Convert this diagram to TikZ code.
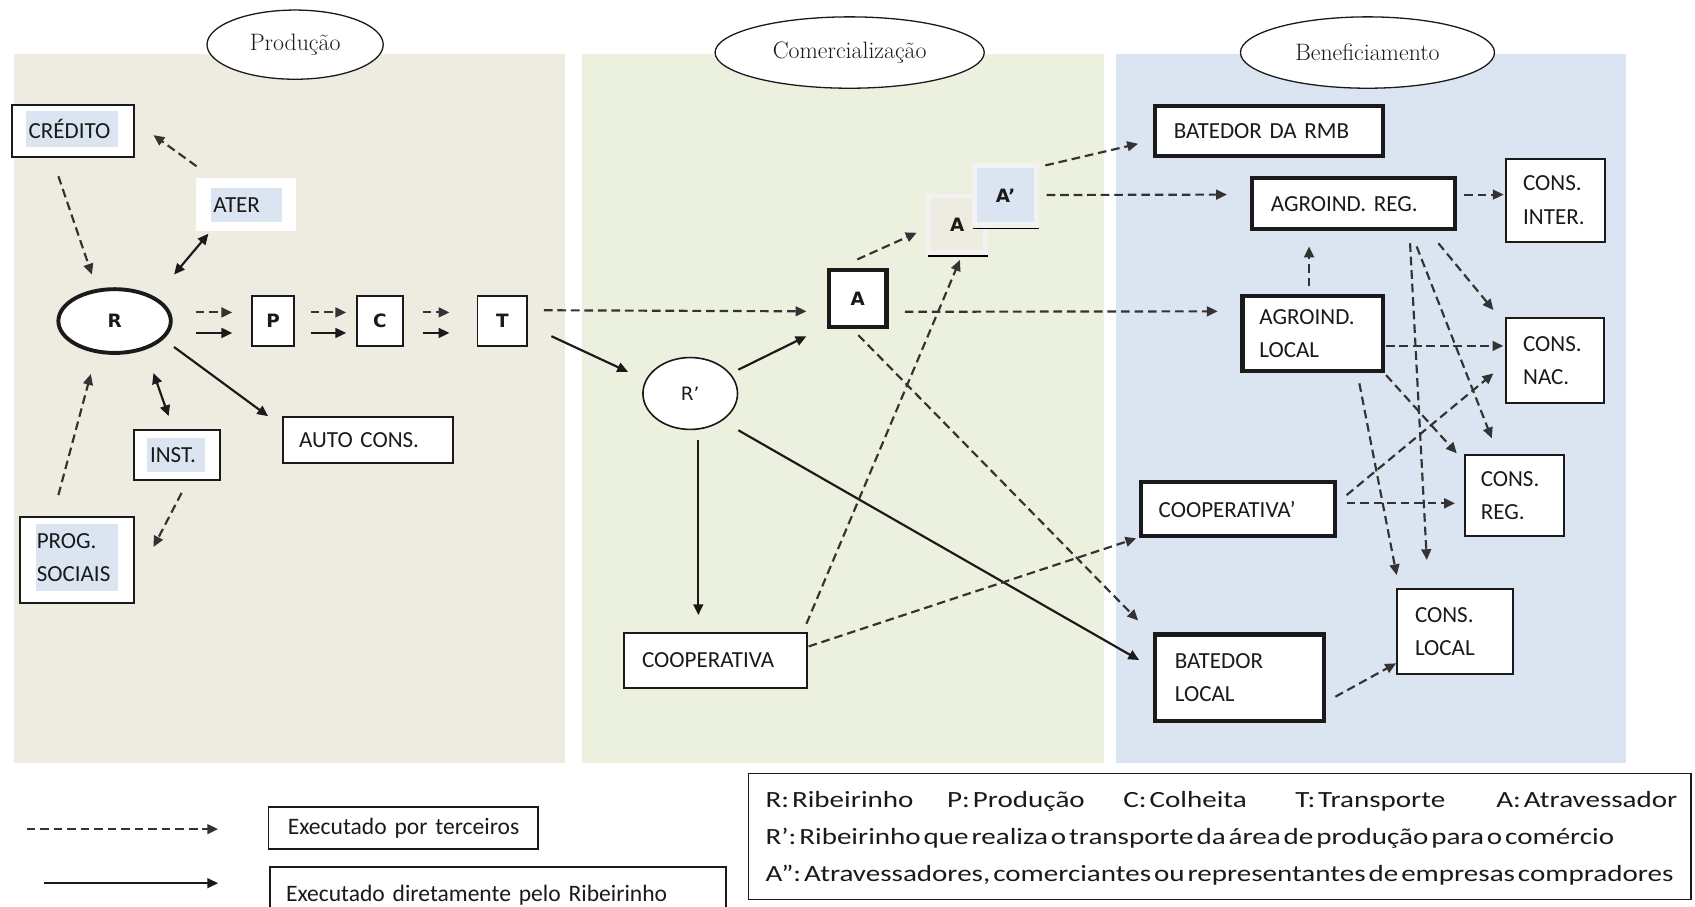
\documentclass[tikz,border=0pt]{standalone}
\usepackage{fontspec}
\newfontfamily\boxfont{Carlito}
\newfontfamily\letterfont{DejaVu Sans}
\newfontfamily\legfont{Carlito}[FakeStretch=1.25,WordSpace=0.45]
\usetikzlibrary{arrows.meta,calc,shapes.geometric}

\definecolor{tanbg}{HTML}{EEECE1}
\definecolor{greenbg}{HTML}{EBF1DE}
\definecolor{bluebg}{HTML}{DBE5F1}
\definecolor{hl}{HTML}{DBE5F1}
\definecolor{ink}{HTML}{1A1A1A}
\definecolor{dashink}{HTML}{333333}
\definecolor{frame}{HTML}{F2F2F2}
\definecolor{shade}{HTML}{8EA4BE}

\tikzset{
  title/.style={ellipse, draw=ink, line width=1.2pt, fill=white, inner sep=0pt,
    text=ink, font=\fontsize{22}{26}\selectfont},
  box/.style={rectangle, draw=ink, line width=1.8pt, fill=white, inner ysep=0pt,
    align=left, text=ink, font=\boxfont\fontsize{21.3}{31}\selectfont},
  thickbox/.style={box, line width=3.8pt},
  letter/.style={text=ink, font=\letterfont\bfseries\fontsize{17}{20}\selectfont},
  hlbox/.style={fill=hl, inner ysep=0pt, align=left, text=ink,
    font=\boxfont\fontsize{21.3}{31}\selectfont},
  stackbox/.style={draw=frame, line width=4.6pt, inner sep=0pt, letter},
  legtext/.style={anchor=base west, inner sep=0pt, text=ink,
    font=\legfont\fontsize{21.5}{34}\selectfont},
  keybox/.style={box, line width=1.5pt, font=\boxfont\fontsize{21.8}{26}\selectfont},
  tip/.style={-{Triangle[length=10pt,width=9pt]}},
  dsh/.style={draw=dashink, line width=2pt, dash pattern=on 8pt off 4.5pt, tip},
  sol/.style={draw=ink, line width=2pt, tip},
  sol2/.style={draw=ink, line width=2pt,
    {Triangle[length=10pt,width=9pt]}-{Triangle[length=10pt,width=9pt]}},
}

\begin{document}
\begin{tikzpicture}[x=1pt,y=-1pt]
\useasboundingbox (0,0) rectangle (1568,839);
\clip (0,0) rectangle (1568,839);
\fill[white] (0,0) rectangle (1568,839);

% the three stage panels
\fill[tanbg] (12.5,50) rectangle (523,706);
\fill[greenbg] (538.5,50) rectangle (1021,706);
\fill[bluebg] (1032.5,50) rectangle (1504,706);

% stage titles
\node[title, minimum width=163, minimum height=64] (tprod) at (273,41.3) {Produção};
\node[title, minimum width=249, minimum height=66] (tcom) at (786,48.6) {Comercialização};
\node[title, minimum width=235, minimum height=66] (tben) at (1265,48.6) {Beneficiamento};

% ---------- Produção ----------
\node[box, minimum width=113.2, minimum height=48.2] (cred) at (67.5,121) {};
\node[hlbox, minimum width=85, minimum height=33, inner xsep=2.5pt, text width=80pt] (credt) at (66.5,119.5) {CRÉDITO};

\node[fill=white, minimum width=93, minimum height=49, inner sep=0pt] (ater) at (227.5,189.5) {};
\node[hlbox, minimum width=66, minimum height=31, inner xsep=2.5pt, text width=61pt] (atert) at (228,189.5) {ATER};

\node[ellipse, draw=ink, line width=3.6pt, fill=white, minimum width=104, minimum height=59, inner sep=0pt, letter] (R) at (106,297) {R};

\node[box, minimum width=39.6, minimum height=46.2, inner xsep=0pt, letter] (P) at (252.6,297) {P};
\node[box, minimum width=42.4, minimum height=46.2, inner xsep=0pt, letter] (C) at (351.4,297) {C};
\node[box, minimum width=46, minimum height=46.2, inner xsep=0pt, letter] (T) at (464.7,297) {T};

\node[box, minimum width=79.2, minimum height=46.2] (inst) at (163.5,421) {};
\node[hlbox, minimum width=54, minimum height=32, inner xsep=2.8pt, text width=48.4pt] (instt) at (163,421) {INST.};

\node[box, minimum width=157.2, minimum height=42.2, inner xsep=14.9pt, text width=127.4pt] (auto) at (340.5,407) {AUTO CONS.};

\node[box, minimum width=105.2, minimum height=80.2] (prog) at (71.5,518) {};
\node[hlbox, minimum width=76, minimum height=62, inner xsep=1pt, text width=74pt] (progt) at (71,516) {PROG.\\SOCIAIS};

% ---------- Comercialização ----------
\node[ellipse, draw=ink, line width=1.5pt, fill=white, minimum width=87.5, minimum height=66.5, inner sep=0pt,
  text=ink, font=\letterfont\fontsize{17}{20}\selectfont] (Rp) at (638.5,364) {R’};
\node[thickbox, minimum width=53.2, minimum height=52.2, inner xsep=0pt, letter] (A) at (793.5,276) {A};
\node[stackbox, fill=tanbg, minimum width=52.4, minimum height=52.4] (Aback) at (885.5,207.5) {A};
\draw[shade, line width=1.6pt] ($(Aback.south west)+(1,1)$) -- ($(Aback.south east)+(0,1)$);
\node[stackbox, fill=bluebg, minimum width=57.9, minimum height=54.8] (Afront) at (930.25,180.7) {A’};
\draw[shade, line width=1.6pt] ($(Afront.south west)+(1,1)$) -- ($(Afront.south east)+(0,1)$);
\node[box, minimum width=168.7, minimum height=50.2, inner xsep=16.6pt, text width=135.5pt] (coop) at (661.75,611) {COOPERATIVA};

% ---------- Beneficiamento ----------
\node[thickbox, minimum width=211, minimum height=46.2, inner xsep=17.1pt, text width=176.8pt] (rmb) at (1174.2,121) {BATEDOR DA RMB};
\node[thickbox, minimum width=188.2, minimum height=47.2, inner xsep=17.7pt, text width=152.8pt] (areg) at (1252,188.5) {AGROIND. REG.};
\node[thickbox, minimum width=130.2, minimum height=69.2, inner xsep=15.6pt, text width=99pt] (aloc) at (1214.5,308.5) {AGROIND.\\LOCAL};
\node[thickbox, minimum width=179.2, minimum height=50.2, inner xsep=16.1pt, text width=147pt] (coop2) at (1145.4,471) {COOPERATIVA’};
\node[thickbox, minimum width=155.9, minimum height=80.2, inner xsep=18.1pt, text width=119.7pt] (bloc) at (1146.65,627) {BATEDOR\\LOCAL};
\node[box, minimum width=91.2, minimum height=76.7, inner xsep=15.6pt, text width=60pt] (cinter) at (1439,185.25) {CONS.\\INTER.};
\node[box, minimum width=90.7, minimum height=79.2, inner xsep=15.6pt, text width=59.5pt] (cnac) at (1438.75,333.5) {CONS.\\NAC.};
\node[box, minimum width=92.2, minimum height=75.2, inner xsep=14.9pt, text width=62.4pt] (creg) at (1401,458.5) {CONS.\\REG.};
\node[box, minimum width=107, minimum height=78.2, inner xsep=16.6pt, text width=73.8pt] (clocal) at (1345.9,584.35) {CONS.\\LOCAL};

% ---------- connectors: Produção ----------
\draw[dsh] ($(cred.south)+(-13.5,17)$) -- ($(R)+(-21,-43)$);
\draw[dsh] ($(ater.north west)+(1,-11)$) -- ($(cred.east)+(17,4)$);
\draw[sol2] ($(R)+(55,-43)$) -- ($(ater.south west)+(12,2)$);
\draw[sol] ($(R)+(55,24)$) -- ($(auto.north west)+(-13,0)$);
\draw[sol2] ($(R)+(36,48)$) -- ($(inst.north)+(-7.5,-12)$);
\draw[dsh] ($(prog.north)+(-17.5,-19)$) -- ($(R)+(-22,49)$);
\draw[dsh] ($(inst.south)+(4.5,11)$) -- ($(prog.east)+(17,-12)$);
\draw[dsh] ($(R)+(75,-8)$) -- ($(P.west)+(-17,-8)$);
\draw[sol] ($(R)+(75,11)$) -- ($(P.west)+(-17,11)$);
\draw[dsh] ($(P.east)+(14,-8)$) -- ($(C.west)+(-9,-8)$);
\draw[sol] ($(P.east)+(14,11)$) -- ($(C.west)+(-9,11)$);
\draw[dsh] ($(C.east)+(17.5,-8)$) -- ($(T.west)+(-25,-8)$);
\draw[sol] ($(C.east)+(17.5,11)$) -- ($(T.west)+(-25,11)$);

% ---------- connectors: Comercialização ----------
\draw[dsh] ($(T.east)+(14.5,-10)$) -- ($(A.west)+(-19,12)$);
\draw[sol] ($(T.east)+(21.5,14)$) -- ($(Rp)+(-57.5,-20)$);
\draw[sol] ($(Rp)+(44.5,-22)$) -- ($(A.west)+(-19,35)$);
\draw[sol] ($(Rp)+(7.5,43)$) -- ($(coop.north)+(-15.75,-16)$);
\draw[sol] ($(Rp)+(44.5,34)$) -- ($(bloc.west)+(-13,-16.4)$);
\draw[dsh] ($(A.north)+(-0.5,-8)$) -- ($(Aback)+(-37.5,7.8)$);
\draw[dsh] ($(coop.north east)+(-1,-8)$) -- ($(Aback)+(2.5,33)$);
\draw[dsh] ($(coop.east)+(1,-13)$) -- ($(coop2.south west)+(-2.8,0)$);
\draw[dsh] ($(A.east)+(15,12.4)$) -- ($(aloc.west)+(-21,-20.5)$);
\draw[dsh] ($(A.south)+(0.5,6)$) -- ($(bloc.north west)+(-14,-11)$);
\draw[dsh] ($(Afront)+(36.75,-27.7)$) -- ($(rmb.west)+(-14,12)$);
\draw[dsh] ($(Afront)+(38,-0.3)$) -- ($(areg.west)+(-21,-8.5)$);

% ---------- connectors: Beneficiamento ----------
\draw[dsh] ($(areg.east)+(6.6,-8.5)$) -- ($(cinter.west)+(-1.5,-5.25)$);
\draw[dsh] ($(aloc.north)+(-3.5,-7)$) -- ($(areg.south)+(-41,14)$);
\draw[dsh] ($(aloc.east)+(0.5,11.5)$) -- ($(cnac.west)+(-1.8,-13.5)$);
\draw[dsh] ($(areg.south)+(78.6,11)$) -- ($(cnac.north west)+(-11,-6.2)$);
\draw[dsh] ($(areg.south)+(58.5,14)$) -- ($(creg.north west)+(26,-14.5)$);
\draw[dsh] ($(areg.south)+(52.4,11)$) -- ($(clocal.north)+(-26,-26.3)$);
\draw[dsh] ($(aloc.south east)+(0.7,2)$) -- ($(creg.north west)+(-6.4,-0.6)$);
\draw[dsh] ($(aloc.south)+(43,9.6)$) -- ($(clocal.north west)+(0.5,-12.3)$);
\draw[dsh] ($(coop2.east)+(8.8,-13)$) -- ($(cnac.west)+(-11,11.9)$);
\draw[dsh] ($(coop2.east)+(8.8,-5.4)$) -- ($(creg.west)+(-8,7.1)$);
\draw[dsh] ($(bloc.east)+(8.8,17.5)$) -- ($(clocal.west)+(0,29.25)$);

% ---------- legend ----------
\coordinate (ld1) at (24.7,767);
\coordinate (ld2) at (201.8,767);
\coordinate (ls1) at (40.4,817);
\coordinate (ls2) at (201.8,817);
\draw[dsh] (ld1) -- (ld2);
\draw[sol] (ls1) -- (ls2);
\node[keybox, minimum width=249.5, minimum height=38.5, inner xsep=18pt, text width=213.5pt] (leg1) at (373.05,766)
  {\mbox{Executado por terceiros}};
\node[keybox, minimum width=422, minimum height=52.5, inner xsep=14.8pt, text width=392.3pt] (leg2) at (460.75,828)
  {\mbox{Executado diretamente pelo Ribeirinho}};

\node[draw=ink, line width=1.5pt, fill=white, minimum width=871.8, minimum height=116.7, inner sep=0pt] (key) at (1128.35,773.9) {};
\node[legtext] (k1) at (708,747) {R: Ribeirinho};
\node[legtext] (k2) at (876,747) {P: Produção};
\node[legtext] (k3) at (1039,747) {C: Colheita};
\node[legtext] (k4) at (1198,747) {T: Transporte};
\node[legtext] (k5) at (1384,747) {A: Atravessador};
\node[legtext] (k6) at (708,781) {R’: Ribeirinho que realiza o transporte da área de produção para o comércio};
\node[legtext] (k7) at (708,815) {A”: Atravessadores, comerciantes ou representantes de empresas compradores};
\end{tikzpicture}
\end{document}
